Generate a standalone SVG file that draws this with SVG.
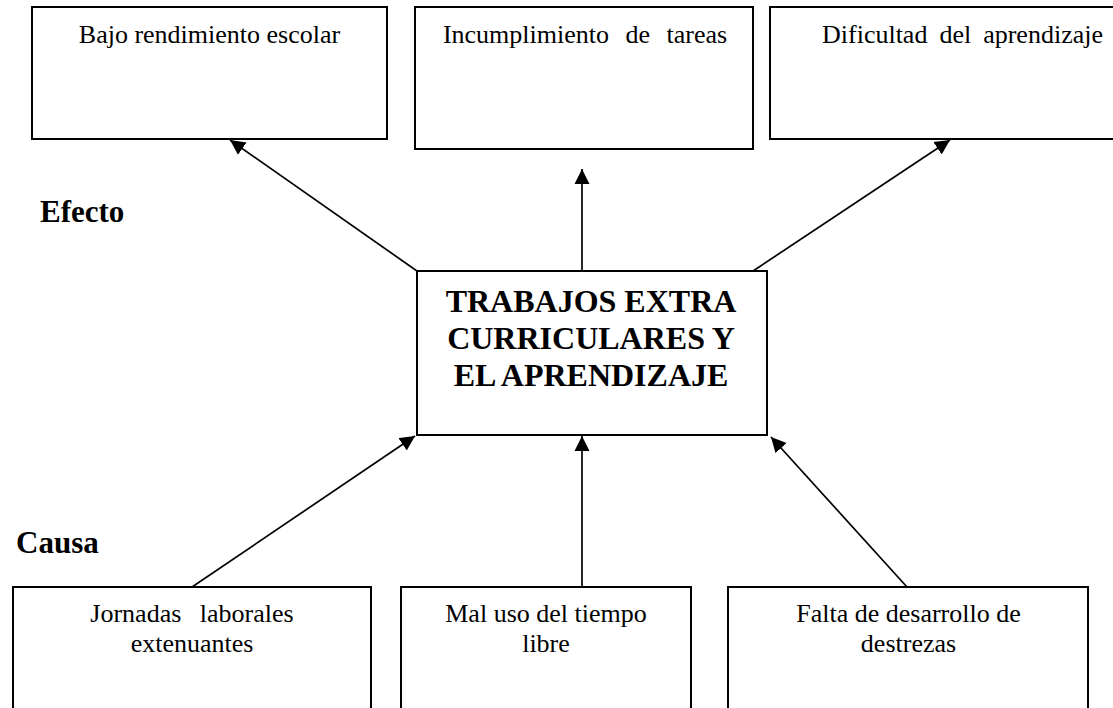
<svg xmlns="http://www.w3.org/2000/svg" width="1113" height="708" viewBox="0 0 1113 708">
<defs>
<style>
.box{fill:#fff;stroke:#000;stroke-width:2}
.t{font-family:"Liberation Serif","Times New Roman",serif;font-size:26px;fill:#000;text-anchor:middle}
.b{font-family:"Liberation Serif","Times New Roman",serif;font-weight:bold;fill:#000}
.c{stroke:#000;stroke-width:1.7;fill:none;marker-end:url(#ah)}
</style>
<marker id="ah" markerUnits="userSpaceOnUse" markerWidth="16" markerHeight="16" viewBox="0 0 16 16" refX="15" refY="8" orient="auto">
<path d="M0,0.5 L15,8 L0,15.5 z" fill="#000"/>
</marker>
</defs>
<rect width="1113" height="708" fill="#fff"/>
<g id="connectors">
<line class="c" x1="417" y1="271" x2="230" y2="140"/>
<line class="c" x1="582" y1="271" x2="582" y2="169"/>
<line class="c" x1="753" y1="271" x2="950" y2="140"/>
<line class="c" x1="192" y1="587" x2="415" y2="436"/>
<line class="c" x1="582" y1="587" x2="582" y2="436"/>
<line class="c" x1="907" y1="587" x2="771" y2="437"/>
</g>
<g id="effect1">
<rect class="box" x="32" y="7" width="355" height="132"/>
<text class="t" x="209.5" y="43">Bajo rendimiento escolar</text>
</g>
<g id="effect2">
<rect class="box" x="415" y="7" width="338" height="142"/>
<text class="t" x="585" y="43" word-spacing="10">Incumplimiento de tareas</text>
</g>
<g id="effect3">
<rect class="box" x="770" y="7" width="360" height="132"/>
<text class="t" x="962.5" y="43" word-spacing="5.5">Dificultad del aprendizaje</text>
</g>
<g id="label-efecto">
<text class="b" x="40" y="222" font-size="31">Efecto</text>
</g>
<g id="center">
<rect class="box" x="417" y="271" width="350" height="164"/>
<text class="b" x="591" y="312" font-size="32" text-anchor="middle">TRABAJOS EXTRA</text>
<text class="b" x="591" y="349" font-size="32" text-anchor="middle">CURRICULARES Y</text>
<text class="b" x="591" y="386" font-size="32" text-anchor="middle">EL APRENDIZAJE</text>
</g>
<g id="label-causa">
<text class="b" x="16" y="553" font-size="31">Causa</text>
</g>
<g id="cause1">
<rect class="box" x="13" y="587" width="358" height="140"/>
<text class="t" x="192" y="622" word-spacing="12">Jornadas laborales</text>
<text class="t" x="192" y="652">extenuantes</text>
</g>
<g id="cause2">
<rect class="box" x="401" y="587" width="290" height="140"/>
<text class="t" x="546" y="622">Mal uso del tiempo</text>
<text class="t" x="546" y="652">libre</text>
</g>
<g id="cause3">
<rect class="box" x="728" y="587" width="360" height="140"/>
<text class="t" x="908.5" y="622">Falta de desarrollo de</text>
<text class="t" x="908.5" y="652">destrezas</text>
</g>
</svg>
